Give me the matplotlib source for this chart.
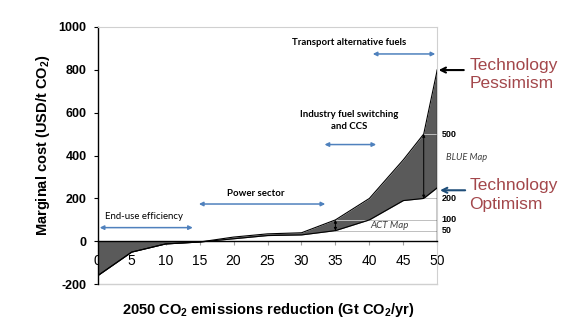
import matplotlib
matplotlib.use('Agg')
import matplotlib.pyplot as plt
import numpy as np

# ---------------- data ----------------
x_vals = [0, 5, 10, 15, 20, 25, 30, 35, 40, 45, 48, 50]
pessimism = [-160, -50, -12, -3, 20, 35, 40, 100, 200, 380, 500, 800]
optimism = [-160, -50, -12, -3, 12, 27, 30, 50, 100, 190, 200, 250]

x_ticks = [0, 5, 10, 15, 20, 25, 30, 35, 40, 45, 50]
y_ticks = [-200, 0, 200, 400, 600, 800, 1000]

sector_labels = ["End-use efficiency", "Power sector",
                 "Industry fuel switching\nand CCS", "Transport alternative fuels"]
sector_start = [0.3, 14.9, 33.4, 40.5]
sector_end = [14.0, 33.5, 41.0, 49.7]
sector_arrow_y = [64, 174, 451, 873]
sector_text_x = [6.8, 23.2, 37.0, 37.0]
sector_text_y = [117, 222, 563, 925]
sector_weight = ['normal', 'bold', 'bold', 'bold']

level_values = [500, 200, 100, 50]
level_start_x = [48, 48, 35, 35]
level_labels = ["500", "200", "100", "50"]

band_x = [48, 35]
band_low = [200, 50]
band_high = [500, 100]

# ---------------- style ----------------
plt.rcParams['font.family'] = ['Liberation Sans', 'DejaVu Sans']
plt.rcParams['mathtext.fontset'] = 'custom'
plt.rcParams['mathtext.rm'] = 'Liberation Sans'
plt.rcParams['mathtext.bf'] = 'Liberation Sans:bold'
plt.rcParams['mathtext.it'] = 'Liberation Sans:italic'

fill_color = '#5a5a5a'
grey_line = '#d0d0d0'
blue = '#4f81bd'
red_text = '#a3474b'

fig = plt.figure(figsize=(5.62, 3.27), dpi=100)
ax = fig.add_axes([97.7 / 562, 1 - 284.3 / 327, 339.6 / 562, 257.6 / 327])

x = np.array(x_vals, dtype=float)
up = np.array(pessimism, dtype=float)
lo = np.array(optimism, dtype=float)

ax.fill_between(x, lo, up, color=fill_color, lw=0, zorder=2)
ax.fill_between(x, lo, 0, where=lo <= 0, interpolate=True, color=fill_color, lw=0, zorder=2)
ax.plot(x, up, color='black', lw=0.8, zorder=3)
ax.plot(x, lo, color='black', lw=0.8, zorder=3)
ax.plot([x[-1], x[-1]], [0, up[-1]], color='black', lw=1.0, zorder=3)

# reference levels
for v, xs, lab in zip(level_values, level_start_x, level_labels):
    ax.plot([xs, x_vals[-1]], [v, v], color='#bfbfbf', lw=0.7, zorder=2.5)
    ax.text(50.6, v, lab, fontsize=6.5, fontweight='bold', ha='left', va='center',
            clip_on=False)

# vertical double arrows
for bx, bl, bh in zip(band_x, band_low, band_high):
    ax.annotate('', xy=(bx, bh), xytext=(bx, bl),
                arrowprops=dict(arrowstyle='<|-|>', color='black', lw=0.7,
                                mutation_scale=4, shrinkA=0, shrinkB=0), zorder=4)

ax.text(51.3, 393, "BLUE Map", fontsize=6.7, style='italic', color='#404040',
        ha='left', va='center', family=['Lato', 'DejaVu Sans'], clip_on=False)
ax.text(40.2, 72, "ACT Map", fontsize=7, style='italic', color='#404040',
        ha='left', va='center', family=['Lato', 'DejaVu Sans'])

# sector arrows + labels
for lab, xs, xe, ay, tx, ty, w in zip(sector_labels, sector_start, sector_end,
                                        sector_arrow_y, sector_text_x, sector_text_y,
                                        sector_weight):
    ax.annotate('', xy=(xe, ay), xytext=(xs, ay),
                arrowprops=dict(arrowstyle='<|-|>', color=blue, lw=1.1,
                                mutation_scale=6, shrinkA=0, shrinkB=0))
    ax.text(tx, ty, lab, fontsize=6.9, fontweight=w, ha='center', va='center',
            family=['Lato', 'DejaVu Sans'], linespacing=1.45)

# technology annotations
ax.annotate('', xy=(50.2, 798), xytext=(53.9, 798),
            arrowprops=dict(arrowstyle='->', color='black', lw=1.5,
                            mutation_scale=9, shrinkA=0, shrinkB=0),
            annotation_clip=False)
ax.annotate('', xy=(50.4, 238), xytext=(54.1, 238),
            arrowprops=dict(arrowstyle='->', color='#1f4e79', lw=1.5,
                            mutation_scale=9, shrinkA=0, shrinkB=0),
            annotation_clip=False)
ax.text(54.7, 820, "Technology", fontsize=12.5, color=red_text, ha='left', va='center', clip_on=False)
ax.text(54.7, 734, "Pessimism", fontsize=12.5, color=red_text, ha='left', va='center', clip_on=False)
ax.text(54.7, 262, "Technology", fontsize=12.5, color=red_text, ha='left', va='center', clip_on=False)
ax.text(54.7, 172, "Optimism", fontsize=12.5, color=red_text, ha='left', va='center', clip_on=False)

# axes
ax.set_xlim(0, 50)
ax.set_ylim(-200, 1000)
ax.set_xticks(x_ticks)
ax.set_yticks(y_ticks)
ax.set_xticklabels([str(t) for t in x_ticks], fontsize=9, fontweight='bold')
ax.set_yticklabels([str(t) for t in y_ticks], fontsize=9, fontweight='bold')

ax.spines['bottom'].set_position(('data', 0))
ax.spines['bottom'].set_color('black')
ax.spines['bottom'].set_linewidth(1.0)
ax.spines['bottom'].set_zorder(5)
ax.spines['left'].set_color('black')
ax.spines['left'].set_linewidth(1.0)
ax.spines['top'].set_color(grey_line)
ax.spines['right'].set_color(grey_line)
ax.plot([0, 1], [0, 0], transform=ax.transAxes, color=grey_line, lw=1.0, clip_on=False)

ax.tick_params(axis='x', direction='out', length=3, color='#a0a0a0', pad=6)
ax.tick_params(axis='y', direction='out', length=3, color='black', pad=5)

fig.text(43 / 562, 1 - 145 / 327, r"Marginal cost (USD/t CO$_\mathbf{2}$)", rotation=90,
         fontsize=10.5, fontweight='bold', ha='center', va='center')
fig.text(268 / 562, 1 - 310 / 327, r"2050 CO$_\mathbf{2}$ emissions reduction (Gt CO$_\mathbf{2}$/yr)",
         fontsize=10.5, fontweight='bold', ha='center', va='center')

fig.savefig('out.png', dpi=100)
